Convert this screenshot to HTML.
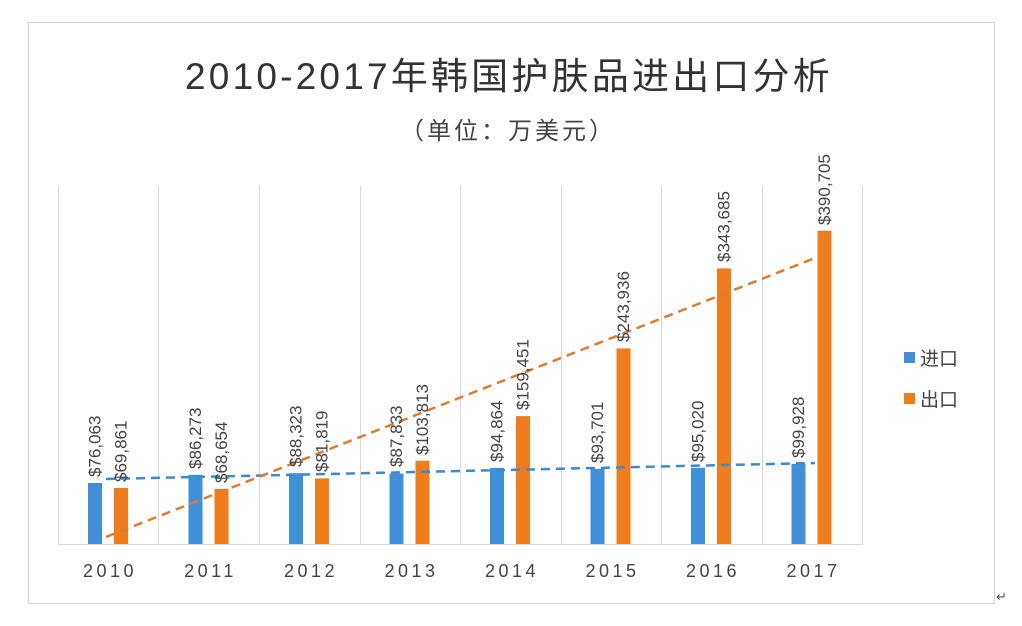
<!DOCTYPE html>
<html><head><meta charset="utf-8"><style>
body{margin:0;background:#fff;}
svg{display:block;font-family:"Liberation Sans","Noto Sans CJK SC",sans-serif;}
</style></head><body>
<svg width="1022" height="626" viewBox="0 0 1022 626">
<rect x="0" y="0" width="1022" height="626" fill="#fff"/>
<rect x="28.5" y="22.5" width="966" height="581" fill="#fff" stroke="#d4d4d4"/>
<text x="509" y="89" text-anchor="middle" font-size="37" fill="#333" letter-spacing="3.2">2010-2017年韩国护肤品进出口分析</text>
<text x="508" y="139" text-anchor="middle" font-size="24" fill="#444" letter-spacing="3">（单位：万美元）</text>
<g stroke="#d9d9d9" stroke-width="1">
<line x1="58.5" y1="186" x2="58.5" y2="544"/><line x1="158.5" y1="186" x2="158.5" y2="544"/>
<line x1="259.5" y1="186" x2="259.5" y2="544"/><line x1="360.5" y1="186" x2="360.5" y2="544"/>
<line x1="460.5" y1="186" x2="460.5" y2="544"/><line x1="561.5" y1="186" x2="561.5" y2="544"/>
<line x1="661.5" y1="186" x2="661.5" y2="544"/><line x1="762.5" y1="186" x2="762.5" y2="544"/>
<line x1="862.5" y1="186" x2="862.5" y2="544"/>
<line x1="58" y1="544.5" x2="863" y2="544.5"/>
</g>
<g fill="#3f8fd9">
<rect x="88" y="483" width="14" height="61"/><rect x="188.5" y="474.8" width="14" height="69.2"/>
<rect x="289" y="473.2" width="14" height="70.8"/><rect x="389.5" y="473.6" width="14" height="70.4"/>
<rect x="490" y="467.9" width="14" height="76.1"/><rect x="590.5" y="468.9" width="14" height="75.1"/>
<rect x="691" y="467.8" width="14" height="76.2"/><rect x="791.5" y="463.9" width="14" height="80.1"/>
</g>
<g fill="#f07c1c">
<rect x="114" y="488" width="14" height="56"/><rect x="214.5" y="488.9" width="14" height="55.1"/>
<rect x="315" y="478.4" width="14" height="65.6"/><rect x="415.5" y="460.7" width="14" height="83.3"/>
<rect x="516" y="416.1" width="14" height="127.9"/><rect x="616.5" y="348.4" width="14" height="195.6"/>
<rect x="717" y="268.4" width="14" height="275.6"/><rect x="817.5" y="230.7" width="14" height="313.3"/>
</g>
<line x1="106" y1="479" x2="815" y2="463" stroke="#3a8ad0" stroke-width="2.5" stroke-dasharray="9,6"/>
<line x1="106" y1="537" x2="815" y2="258" stroke="#e07b2c" stroke-width="2.5" stroke-dasharray="9,6"/>
<g font-size="17" fill="#444" dominant-baseline="central">
<text transform="translate(95,477) rotate(-90)">$76,063</text>
<text transform="translate(121,482) rotate(-90)">$69,861</text>
<text transform="translate(195.5,469) rotate(-90)">$86,273</text>
<text transform="translate(221.5,483) rotate(-90)">$68,654</text>
<text transform="translate(296,467) rotate(-90)">$88,323</text>
<text transform="translate(322,472) rotate(-90)">$81,819</text>
<text transform="translate(396.5,467) rotate(-90)">$87,833</text>
<text transform="translate(422.5,455) rotate(-90)">$103,813</text>
<text transform="translate(497,462) rotate(-90)">$94,864</text>
<text transform="translate(523,410) rotate(-90)">$159,451</text>
<text transform="translate(597.5,463) rotate(-90)">$93,701</text>
<text transform="translate(623.5,342) rotate(-90)">$243,936</text>
<text transform="translate(698,462) rotate(-90)">$95,020</text>
<text transform="translate(724,262) rotate(-90)">$343,685</text>
<text transform="translate(798.5,458) rotate(-90)">$99,928</text>
<text transform="translate(824.5,225) rotate(-90)">$390,705</text>
</g>
<g font-size="18" fill="#444" text-anchor="middle" letter-spacing="3.5">
<text x="110" y="577">2010</text><text x="210.5" y="577">2011</text><text x="311" y="577">2012</text>
<text x="411.5" y="577">2013</text><text x="512" y="577">2014</text><text x="612.5" y="577">2015</text>
<text x="713" y="577">2016</text><text x="813.5" y="577">2017</text>
</g>
<rect x="904" y="352" width="11" height="11" fill="#3f8fd9"/>
<text x="920" y="365" font-size="19" fill="#444">进口</text>
<rect x="904" y="393" width="11" height="11" fill="#f07c1c"/>
<text x="920" y="406" font-size="19" fill="#444">出口</text>
<text x="996" y="601" font-size="13" fill="#555">↵</text>
</svg>
</body></html>
